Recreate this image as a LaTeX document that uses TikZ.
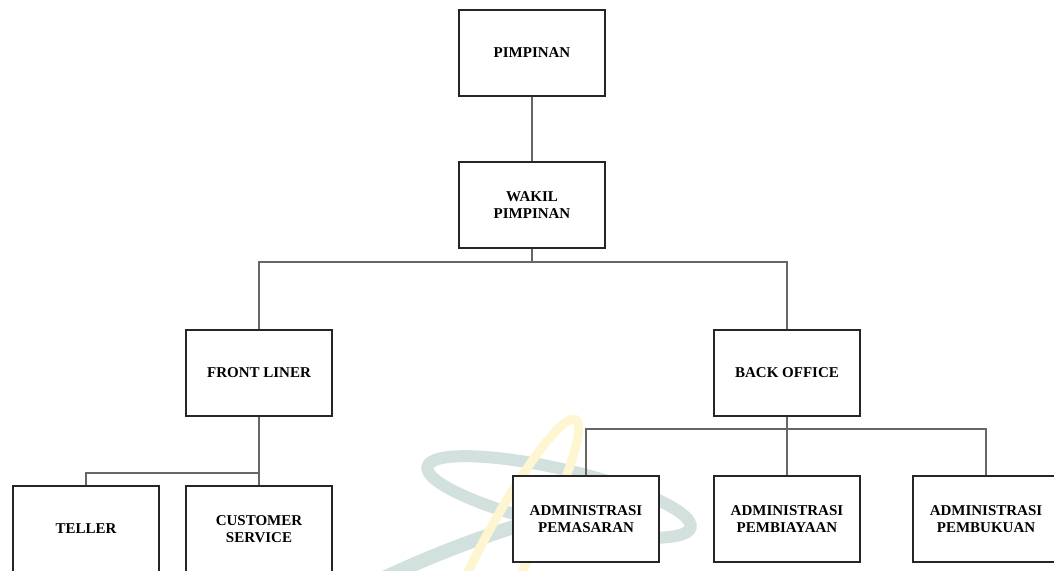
\documentclass[tikz,border=0pt]{standalone}
\usepackage{fontspec}
\setmainfont{Liberation Serif}
\begin{document}
\begin{tikzpicture}[x=1pt,y=-1pt,
  unit/.style={draw=black!85, line width=1.8pt, fill=white,
    minimum width=146pt, minimum height=86pt, inner sep=0pt,
    align=center, font=\bfseries\fontsize{15}{16.5}\selectfont},
  link/.style={draw=black!60, line width=1.6pt},
  wmteal/.style={draw=wmA, line width=12pt},
  wmyellow/.style={draw=wmB, line width=9pt}
]
\definecolor{wmA}{RGB}{210,225,222}
\definecolor{wmB}{RGB}{253,246,208}
\useasboundingbox (0,0) rectangle (1054,570);
\clip (0,0) rectangle (1054,570);

% faint logo in the background
\draw[wmteal, rotate around={-13:(559,497)}] (559,497) ellipse [x radius=135pt, y radius=28pt];
\draw[wmteal, line width=14pt] (375,582) .. controls (430,556) and (480,537) .. (530,522);
\draw[wmyellow, rotate around={62:(505,552)}] (505,552) ellipse [x radius=150pt, y radius=24pt];

% organisation units
\node[unit] (pimp)   at (532,53)  {PIMPINAN};
\node[unit] (wakil)  at (532,205) {WAKIL\\PIMPINAN};
\node[unit] (front)  at (259,373) {FRONT LINER};
\node[unit] (back)   at (787,373) {BACK OFFICE};
\node[unit] (teller) at (86,529)  {TELLER};
\node[unit] (cs)     at (259,529) {CUSTOMER\\SERVICE};
\node[unit] (adm1)   at (586,519) {ADMINISTRASI\\PEMASARAN};
\node[unit] (adm2)   at (787,519) {ADMINISTRASI\\PEMBIAYAAN};
\node[unit] (adm3)   at (986,519) {ADMINISTRASI\\PEMBUKUAN};

% branch points
\coordinate (j1) at (532,262);
\coordinate (j2) at (259,473);
\coordinate (j3) at (787,429);

% connectors
\draw[link] (pimp) -- (wakil);
\draw[link] (wakil) -- (j1);
\draw[link] (front.north) |- (j1) -| (back.north);
\draw[link] (front) -- (j2);
\draw[link] (teller.north) |- (j2) -- (cs.north);
\draw[link] (back) -- (j3);
\draw[link] (adm1.north) |- (j3) -| (adm3.north);
\draw[link] (j3) -- (adm2.north);
\end{tikzpicture}
\end{document}
